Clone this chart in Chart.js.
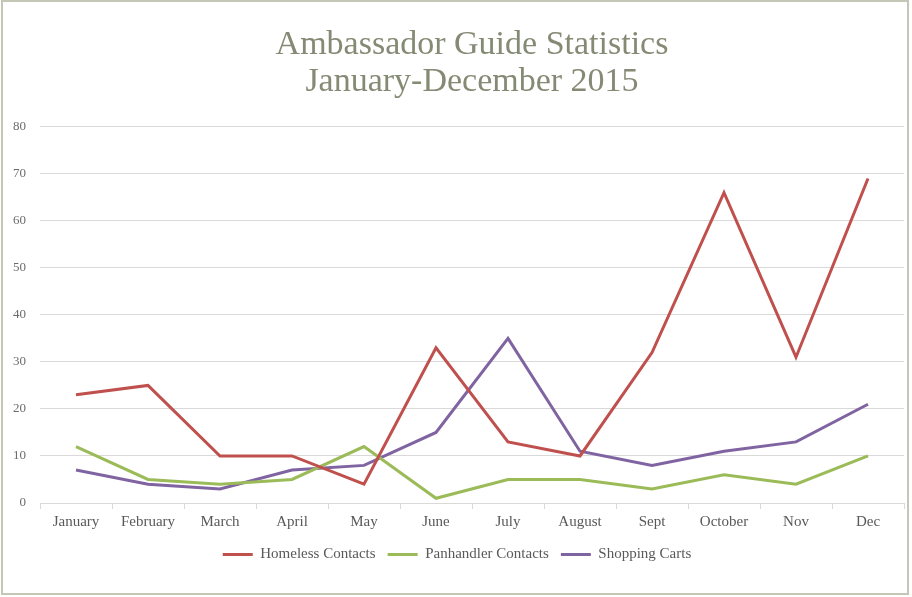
<!DOCTYPE html>
<html>
<head>
<meta charset="utf-8">
<script src="https://cdn.jsdelivr.net/npm/chart.js@4.4.1/dist/chart.umd.min.js"></script>
<style>
  html, body { margin: 0; padding: 0; background: #fff; }
  #wrap { position: absolute; left: 0; top: 0; width: 912px; height: 597px; }
  #frame { position: absolute; left: 1px; top: 0; width: 904px; height: 591px;
           border: 2px solid #c4c7b6; pointer-events: none; }
</style>
</head>
<body>
<div id="wrap"><canvas id="chart"></canvas></div>
<div id="frame"></div>
<script>
const months = ['January', 'February', 'March', 'April', 'May', 'June',
  'July', 'August', 'Sept', 'October', 'Nov', 'Dec'];
const homeless = [23, 25, 10, 10, 4, 33, 13, 10, 32, 66, 31, 69];
const panhandler = [12, 5, 4, 5, 12, 1, 5, 5, 3, 6, 4, 10];
const carts = [7, 4, 3, 7, 8, 15, 35, 11, 8, 11, 13, 21];
const yTicks = [0, 10, 20, 30, 40, 50, 60, 70, 80];

const serif = "'Liberation Serif', 'DejaVu Serif', serif";

const line = (label, data, color) => ({
  label: label,
  data: data,
  borderColor: color,
  backgroundColor: color,
  borderWidth: 3,
  pointRadius: 0,
  pointHoverRadius: 0,
  tension: 0
});

new Chart(document.getElementById('chart').getContext('2d'), {
  type: 'line',
  data: {
    labels: months,
    datasets: [
      line('Homeless Contacts', homeless, '#c0504d'),
      line('Panhandler Contacts', panhandler, '#9bbb59'),
      line('Shopping Carts', carts, '#8064a2')
    ]
  },
  options: {
    responsive: true,
    maintainAspectRatio: false,
    animation: false,
    layout: { padding: { left: 10, right: 8, top: 0, bottom: 25 } },
    plugins: {
      title: {
        display: true,
        fullSize: false,
        text: ['Ambassador Guide Statistics', 'January-December 2015'],
        color: '#858a74',
        font: { family: serif, size: 34, weight: 'normal', lineHeight: 1.1 },
        padding: { top: 26, bottom: 26 }
      },
      legend: {
        position: 'bottom',
        labels: {
          usePointStyle: true,
          pointStyle: 'line',
          pointStyleWidth: 30,
          color: '#595959',
          padding: 12,
          font: { family: serif, size: 15 }
        }
      },
      tooltip: { enabled: false }
    },
    scales: {
      x: {
        offset: true,
        grid: {
          offset: true,
          drawOnChartArea: false,
          drawTicks: true,
          tickLength: 6,
          color: '#d9d9d9'
        },
        border: { display: true, color: '#d9d9d9' },
        ticks: {
          color: '#595959',
          padding: 4,
          maxRotation: 0,
          autoSkip: false,
          font: { family: serif, size: 15 }
        }
      },
      y: {
        min: 0,
        max: 80,
        afterBuildTicks: (axis) => { axis.ticks = yTicks.map((v) => ({ value: v })); },
        afterFit: (axis) => { axis.width = 30; },
        grid: { color: '#d9d9d9', drawTicks: false },
        border: { display: false },
        ticks: {
          color: '#6b6b6b',
          padding: 14,
          font: { family: serif, size: 13 }
        }
      }
    }
  }
});
</script>
</body>
</html>
